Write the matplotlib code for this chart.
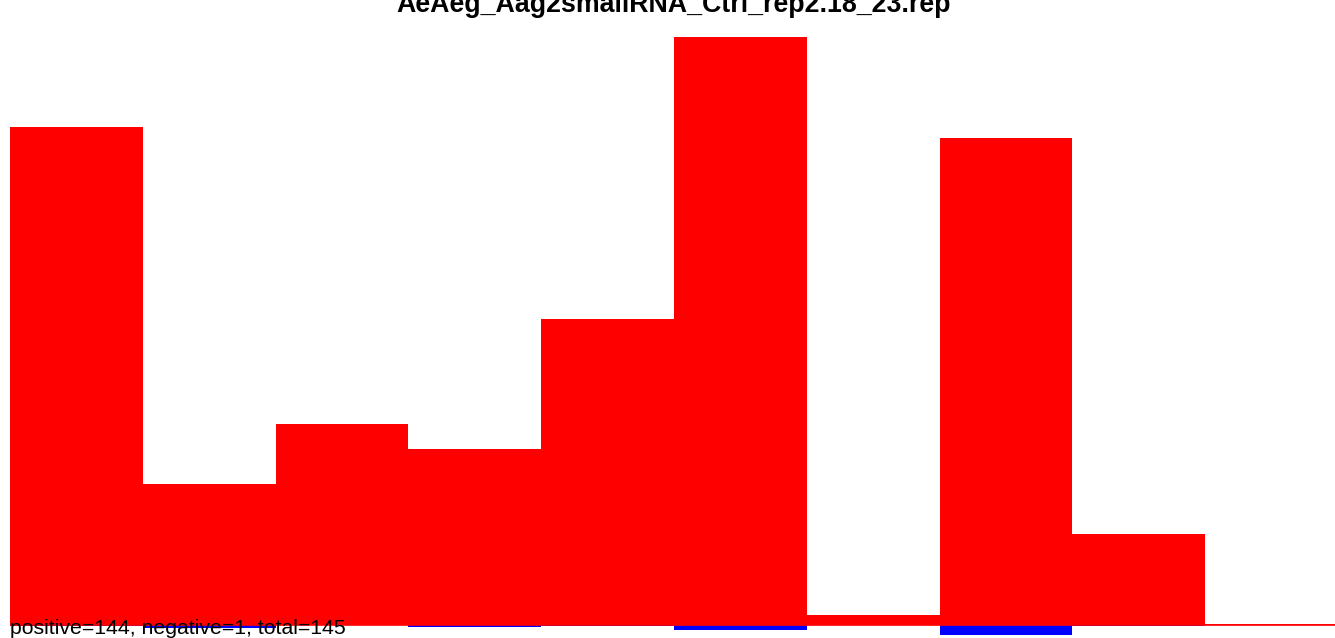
import matplotlib
matplotlib.use('Agg')
import matplotlib.pyplot as plt

title = 'AeAeg_Aag2smallRNA_Ctrl_rep2.18_23.rep'
footer = 'positive=144, negative=1, total=145'

# one bin per position, heights (arbitrary units)
bins = list(range(10))
positive = [498, 141, 201, 176, 306, 588, 10, 487, 91, 1]
negative = [1, 3, 0, 2, 0.5, 5, 0, 10, 0.5, 0]

plt.rcParams['font.family'] = ['Liberation Sans', 'DejaVu Sans']

fig = plt.figure(figsize=(13.35, 6.38), dpi=100)
ax = fig.add_axes([10 / 1335, 0, 1325 / 1335, 601 / 638])

ax.bar(bins, positive, width=1.0, color='red', linewidth=0)
ax.bar(bins, [-v for v in negative], width=1.0, color='blue', linewidth=0)
ax.axhline(0.5, color='red', linewidth=1.2, xmax=1)

ax.set_xlim(-0.5, 9.5 - 3 / 132.7)
ax.set_ylim(-13, 588)
ax.axis('off')

fig.text(674 / 1335, 1 - 12 / 638, title, ha='center', va='baseline',
         fontsize=19.3, fontweight='bold')
fig.text(10 / 1335, 1 - 634 / 638, footer, ha='left', va='baseline',
         fontsize=15.3)

fig.savefig('out.png', dpi=100)
